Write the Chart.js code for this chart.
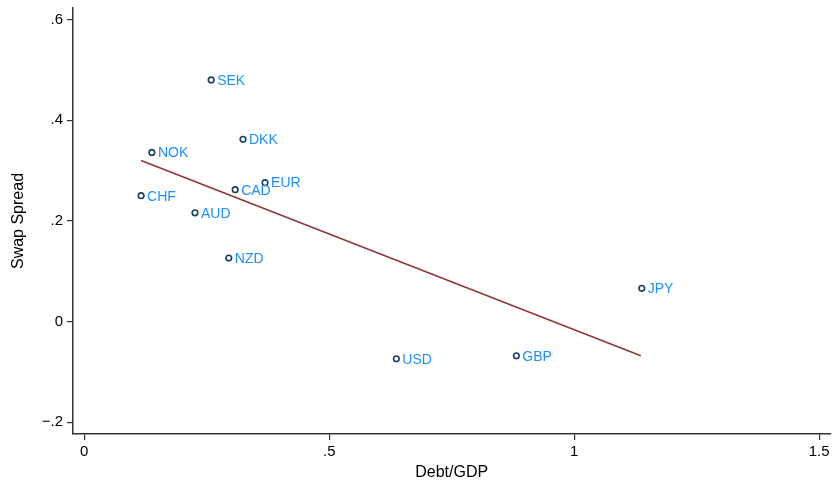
<!DOCTYPE html>
<html>
<head>
<meta charset="utf-8">
<script src="https://cdn.jsdelivr.net/npm/chart.js@4/dist/chart.umd.min.js"></script>
<style>
html,body{margin:0;padding:0;background:#fff;}
#wrap{width:836px;height:482px;}
</style>
</head>
<body>
<div id="wrap"><canvas id="c" width="836" height="482"></canvas></div>
<script>
const currencies = ["SEK","DKK","NOK","CHF","AUD","CAD","EUR","NZD","JPY","USD","GBP"];
const debtGdp    = [0.259,0.324,0.138,0.116,0.226,0.308,0.369,0.295,1.138,0.637,0.882];
const swapSpread = [0.480,0.362,0.336,0.250,0.216,0.262,0.276,0.126,0.066,-0.074,-0.068];
const fitX = [0.116, 1.136];
const fitY = [0.320, -0.068];
const xTicks = [0, 0.5, 1, 1.5];
const yTicks = [-0.2, 0, 0.2, 0.4, 0.6];

function fmt(v){
  if (Math.abs(v) < 1e-9) return "0";
  let s = String(Math.abs(v));
  if (s.startsWith("0.")) s = s.slice(1);
  return (v < 0 ? "\u2212" : "") + s;
}

const labelPlugin = {
  id: 'pointLabels',
  afterDatasetsDraw(chart){
    const ctx = chart.ctx;
    const meta = chart.getDatasetMeta(0);
    ctx.save();
    ctx.font = '14px "Liberation Sans", Arial, sans-serif';
    ctx.fillStyle = '#1e90ff';
    ctx.textAlign = 'left';
    ctx.textBaseline = 'middle';
    meta.data.forEach((pt, i) => {
      ctx.fillText(currencies[i], pt.x + 6, pt.y + 1);
    });
    ctx.restore();
  }
};

const tickFont = {family: '"Liberation Sans", Arial, sans-serif', size: 15};
const titleFont = {family: '"Liberation Sans", Arial, sans-serif', size: 16};

new Chart(document.getElementById('c'), {
  data: {
    datasets: [
      {
        type: 'scatter',
        data: debtGdp.map((x, i) => ({x: x, y: swapSpread[i]})),
        pointStyle: 'circle',
        pointRadius: 2.8,
        pointBorderWidth: 1.6,
        pointBorderColor: '#1a3f63',
        pointBackgroundColor: '#ffffff',
        order: 1
      },
      {
        type: 'line',
        data: fitX.map((x, i) => ({x: x, y: fitY[i]})),
        borderColor: '#90353b',
        borderWidth: 1.6,
        pointRadius: 0,
        fill: false,
        order: 2
      }
    ]
  },
  options: {
    responsive: false,
    animation: false,
    events: [],
    layout: {padding: {top: 8, right: 2, left: 0, bottom: 0}},
    plugins: {legend: {display: false}, tooltip: {enabled: false}},
    scales: {
      x: {
        type: 'linear',
        min: -0.023,
        max: 1.523,
        afterBuildTicks: s => { s.ticks = xTicks.map(v => ({value: v})); },
        afterFit: s => { s.height = 48; s.paddingLeft = 0; s.paddingRight = 0; },
        ticks: {callback: v => fmt(v), color: '#000', font: tickFont, padding: 3, maxRotation: 0, autoSkip: false},
        grid: {drawOnChartArea: false, drawTicks: true, tickLength: 6, color: '#333', lineWidth: 1.2},
        border: {display: true, color: '#333', width: 1.5},
        title: {display: true, text: 'Debt/GDP', color: '#000', font: titleFont, padding: {top: 4, bottom: 0}}
      },
      y: {
        type: 'linear',
        min: -0.2235,
        max: 0.623,
        afterBuildTicks: s => { s.ticks = yTicks.map(v => ({value: v})); },
        afterFit: s => { s.width = 73; s.paddingTop = 0; s.paddingBottom = 0; },
        ticks: {callback: v => fmt(v), color: '#000', font: tickFont, padding: 4, autoSkip: false},
        grid: {drawOnChartArea: false, drawTicks: true, tickLength: 6, color: '#333', lineWidth: 1.2},
        border: {display: true, color: '#333', width: 1.5},
        title: {display: true, text: 'Swap Spread', color: '#000', font: titleFont, padding: {top: 9, bottom: 4}}
      }
    }
  },
  plugins: [labelPlugin]
});
</script>
</body>
</html>
